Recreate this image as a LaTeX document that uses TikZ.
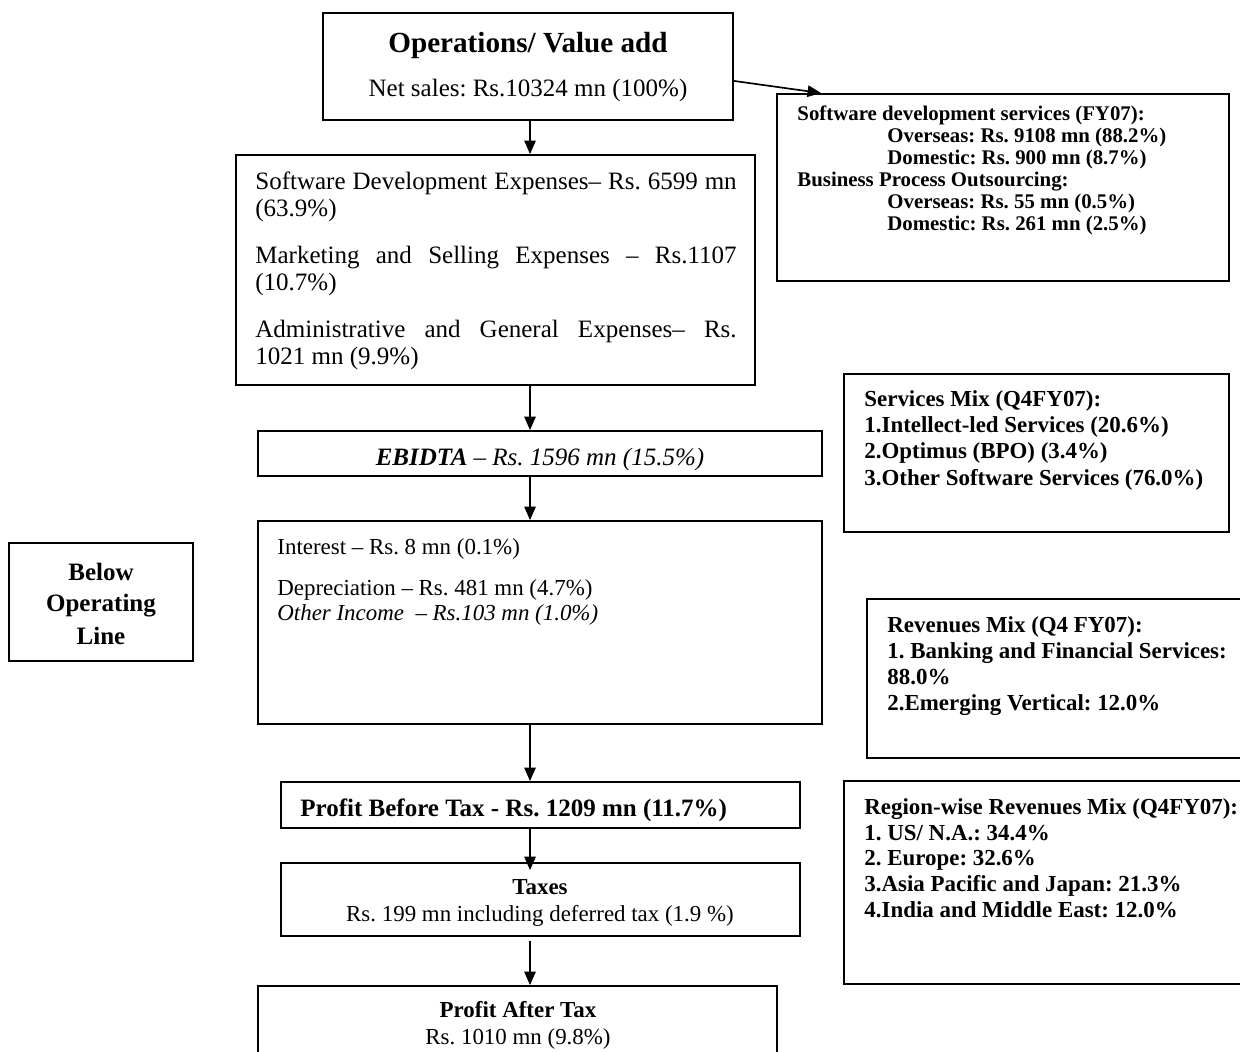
\documentclass[tikz,border=0pt]{standalone}
\usepackage{fontspec}
\setmainfont{Liberation Serif}
\usetikzlibrary{arrows.meta,fit,calc}
\frenchspacing
\begin{document}
\begin{tikzpicture}[x=0.48pt,y=-0.48pt,
  box/.style={draw, line width=0.9pt, inner sep=0pt},
  arr/.style={line width=0.8pt, -{Triangle[length=6.5pt,width=5.5pt]}},
  ct/.style={inner sep=0pt, anchor=base, yshift=-1pt},
  lt/.style={inner sep=0pt, anchor=base west, yshift=-1pt},
  fT/.style={font=\fontsize{14}{16}\selectfont\bfseries\frenchspacing},
  fA/.style={font=\fontsize{12}{13}\selectfont\frenchspacing},
  fAb/.style={font=\fontsize{12}{13}\selectfont\bfseries\frenchspacing},
  fB/.style={font=\fontsize{11}{12.6}\selectfont\frenchspacing},
  fBb/.style={font=\fontsize{11}{12.6}\selectfont\bfseries\frenchspacing},
  fCb/.style={font=\fontsize{10}{10.6}\selectfont\bfseries\frenchspacing}]
\useasboundingbox (0,0) rectangle (1240,1051);
\clip (0,0) rectangle (1240,1051);
\coordinate (ax) at (530,0);

% boxes
\node[box, fit={(323,13) (733,120)}] (ops) {};
\node[box, fit={(777,94) (1229,281)}] (sw) {};
\node[box, fit={(236,155) (755,385)}] (exp) {};
\node[box, fit={(258,431) (822,476)}] (ebd) {};
\node[box, fit={(258,521) (822,724)}] (int) {};
\node[box, fit={(9,543) (193,661)}] (bol) {};
\node[box, fit={(844,374) (1229,532)}] (smix) {};
\node[box, fit={(867,599) (1262,758)}] (rmix) {};
\node[box, fit={(844,781) (1262,984)}] (reg) {};
\node[box, fit={(281,782) (800,828)}] (pbt) {};
\node[box, fit={(281,863) (800,936)}] (tax) {};
\node[box, fit={(258,986) (777,1075)}] (pat) {};

% operations
\node[ct, fT] (opsT) at (528,50) {Operations/ Value add};
\node[ct, fA] (opsN) at (528,94) {Net sales: Rs.10324 mn (100\%)};

% software development services
\node[lt, fCb] (sw1) at (797,118) {Software development services (FY07):};
\node[lt, fCb] (sw2) at (887,140) {Overseas: Rs. 9108 mn (88.2\%)};
\node[lt, fCb] (sw3) at (887,162) {Domestic: Rs. 900 mn (8.7\%)};
\node[lt, fCb] (sw4) at (797,184) {Business Process Outsourcing:};
\node[lt, fCb] (sw5) at (887,206) {Overseas: Rs. 55 mn (0.5\%)};
\node[lt, fCb] (sw6) at (887,228) {Domestic: Rs. 261 mn (2.5\%)};

% expenses
\node[fA, inner sep=0pt, anchor=north west, text width=231pt, align=justify] (expT) at (255,171)
 {Software Development Expenses– Rs. 6599 mn\linebreak (63.9\%)\par\vspace{9.6pt}
  Marketing and Selling Expenses – Rs.1107\linebreak (10.7\%)\par\vspace{9.6pt}
  Administrative and General Expenses– Rs.\linebreak 1021 mn (9.9\%)};

% EBIDTA
\node[ct, fA] (ebdT) at (540,463) {\textbf{\textit{EBIDTA}} \textit{– Rs. 1596 mn (15.5\%)}};

% interest etc.
\node[lt, fB] (in1) at (277,552) {Interest – Rs. 8 mn (0.1\%)};
\node[lt, fB] (in2) at (277,593) {Depreciation – Rs. 481 mn (4.7\%)};
\node[lt, fB] (in3) at (277,618) {\textit{Other Income\ \ – Rs.103 mn (1.0\%)}};

% below operating line
\node[ct, fAb] (bo1) at (101,578) {Below};
\node[ct, fAb] (bo2) at (101,609) {Operating};
\node[ct, fAb] (bo3) at (101,642) {Line};

% services mix
\node[lt, fBb] (sm1) at (864,404) {Services Mix (Q4FY07):};
\node[lt, fBb] (sm2) at (864,430) {1.Intellect-led Services (20.6\%)};
\node[lt, fBb] (sm3) at (864,456) {2.Optimus (BPO) (3.4\%)};
\node[lt, fBb] (sm4) at (864,483) {3.Other Software Services (76.0\%)};

% revenues mix
\node[lt, fBb] (rm1) at (887,630) {Revenues Mix (Q4 FY07):};
\node[lt, fBb] (rm2) at (887,656) {1. Banking and Financial Services:};
\node[lt, fBb] (rm3) at (887,682) {88.0\%};
\node[lt, fBb] (rm4) at (887,708) {2.Emerging Vertical: 12.0\%};

% region-wise
\node[lt, fBb] (rg1) at (864,812) {Region-wise Revenues Mix (Q4FY07):};
\node[lt, fBb] (rg2) at (864,838) {1. US/ N.A.: 34.4\%};
\node[lt, fBb] (rg3) at (864,863) {2. Europe: 32.6\%};
\node[lt, fBb] (rg4) at (864,889) {3.Asia Pacific and Japan: 21.3\%};
\node[lt, fBb] (rg5) at (864,915) {4.India and Middle East: 12.0\%};

% PBT, taxes, PAT
\node[lt, fAb] (pbtT) at (300,814) {Profit Before Tax - Rs. 1209 mn (11.7\%)};
\node[ct, fBb] (tax1) at (540,892) {Taxes};
\node[ct, fB] (tax2) at (540,919) {Rs. 199 mn including deferred tax (1.9 \%)};
\node[ct, fBb] (pat1) at (518,1015) {Profit After Tax};
\node[ct, fB] (pat2) at (518,1042) {Rs. 1010 mn (9.8\%)};

% connectors
\draw[arr] (ops.south -| ax) -- (exp.north -| ax);
\draw[arr] ($(ops.south east)+(0,-40)$) -- ($(sw.north west)+(45,0)$);
\draw[arr] (exp.south -| ax) -- (ebd.north -| ax);
\draw[arr] (ebd.south -| ax) -- (int.north -| ax);
\draw[arr] (int.south -| ax) -- (pbt.north -| ax);
\draw[arr] (pbt.south -| ax) -- ($(tax.north -| ax)+(0,8)$);
\draw[arr] ($(tax.south -| ax)+(0,4)$) -- (pat.north -| ax);
\end{tikzpicture}
\end{document}
